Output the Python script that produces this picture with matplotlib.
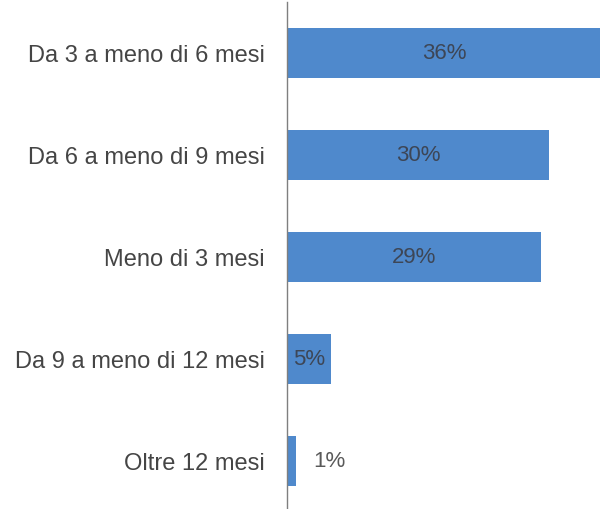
import matplotlib
matplotlib.use('Agg')
import matplotlib.pyplot as plt

categories = ['Da 3 a meno di 6 mesi', 'Da 6 a meno di 9 mesi', 'Meno di 3 mesi',
              'Da 9 a meno di 12 mesi', 'Oltre 12 mesi']
values = [36, 30, 29, 5, 1]
labels = ['36%', '30%', '29%', '5%', '1%']

plt.rcParams['font.family'] = ['Liberation Sans', 'DejaVu Sans']

fig = plt.figure(figsize=(6, 5.1), dpi=100)
ax = fig.add_axes([287 / 600, -3 / 510, 313 / 600, 510.5 / 510])

ypos = list(range(len(categories)))
ax.barh(ypos, values, height=0.49, color='#4f89cc', clip_on=False)

for y, v, lab in zip(ypos, values, labels):
    if v >= 3:
        ax.text(v / 2, y, lab, ha='center', va='center', fontsize=16, color='#3d4656')
    else:
        ax.text(v + 2, y, lab, ha='left', va='center', fontsize=16, color='#595959')

ax.set_xlim(0, 35.8)
ax.set_ylim(len(categories) - 0.5, -0.5)
ax.set_yticks(ypos)
ax.set_yticklabels(categories, fontsize=17, color='#454545')
ax.tick_params(axis='y', length=0, pad=16)
ax.set_xticks([])
for s in ['top', 'right', 'bottom']:
    ax.spines[s].set_visible(False)
ax.spines['left'].set_color('#7f7f7f')
ax.spines['left'].set_linewidth(1)

fig.savefig('out.png', dpi=100)
